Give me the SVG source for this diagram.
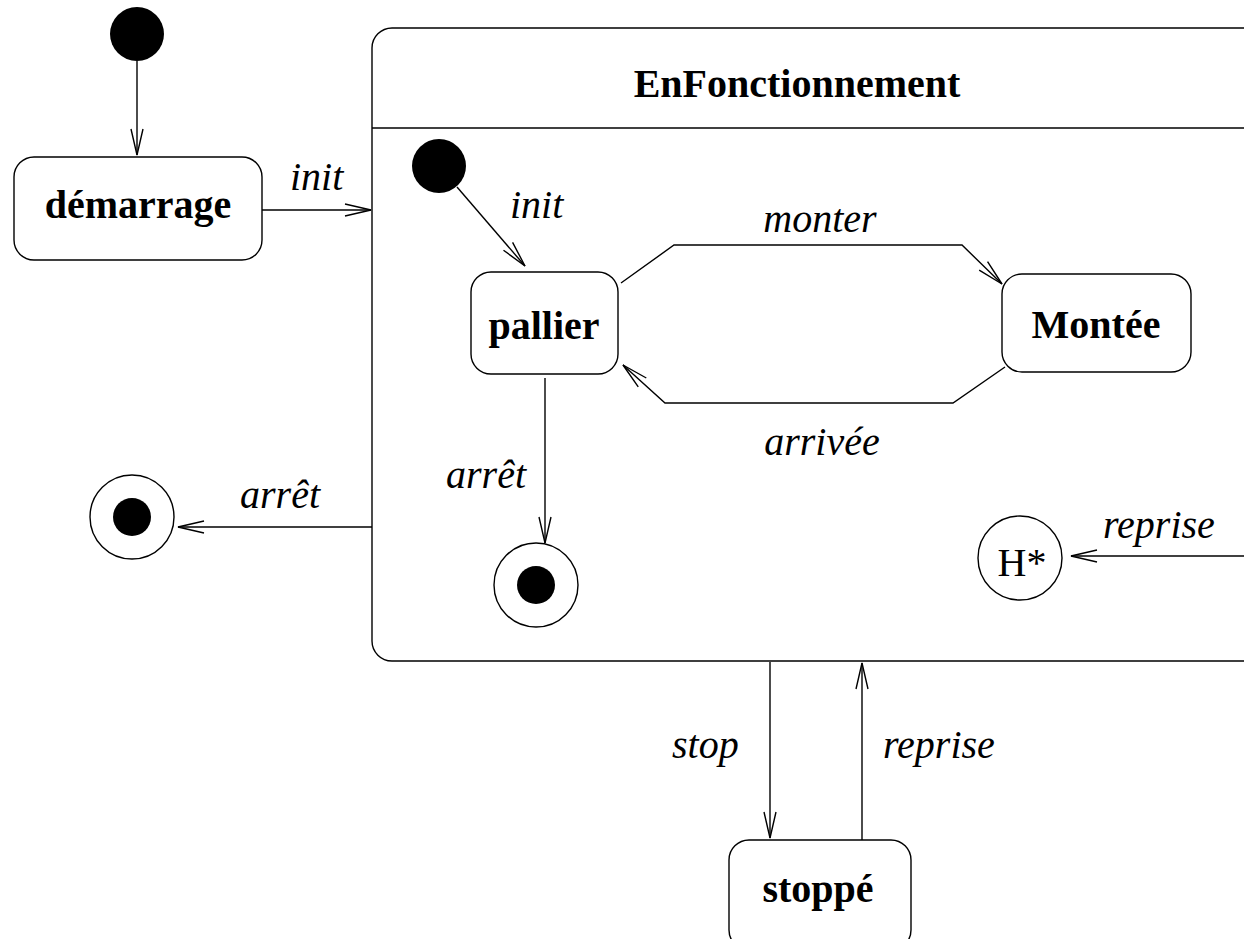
<svg xmlns="http://www.w3.org/2000/svg" width="1244" height="939" viewBox="0 0 1244 939">
  <style>
    .box { fill: #fff; stroke: #000; stroke-width: 1.4; }
    .ring { fill: #fff; stroke: #000; stroke-width: 1.4; }
    .dot { fill: #000; }
    .edge { fill: none; stroke: #000; stroke-width: 1.4; }
    .state { font-family: "Liberation Serif", "Times New Roman", serif; font-weight: bold; font-size: 40px; text-anchor: middle; fill: #000; }
    .label { font-family: "Liberation Serif", "Times New Roman", serif; font-style: italic; font-size: 40px; fill: #000; }
    .hist { font-family: "Liberation Serif", "Times New Roman", serif; font-size: 40px; text-anchor: middle; fill: #000; }
  </style>
  <defs>
    <marker id="open-arrow" markerUnits="userSpaceOnUse" markerWidth="30" markerHeight="16" refX="27" refY="7" orient="auto" viewBox="0 0 30 16">
      <path d="M1,1 L27,7 L1,13" fill="none" stroke="#000" stroke-width="1.4"/>
    </marker>
  </defs>
  <rect width="1244" height="939" fill="#fff"/>

  <!-- composite state -->
  <g id="enfonctionnement">
    <rect class="box" x="372" y="28" width="900" height="633" rx="20" ry="20"/>
    <line class="edge" x1="372" y1="128" x2="1244" y2="128"/>
    <text class="state" x="797" y="97">EnFonctionnement</text>
  </g>

  <g id="initial-top">
    <circle class="dot" cx="137" cy="34" r="27"/>
  </g>

  <g id="demarrage">
    <rect class="box" x="14" y="157" width="248" height="103" rx="20" ry="20"/>
    <text class="state" x="138" y="218">démarrage</text>
  </g>

  <g id="initial-inner">
    <circle class="dot" cx="439" cy="166" r="27"/>
  </g>

  <g id="pallier">
    <rect class="box" x="471" y="272" width="147" height="102" rx="20" ry="20"/>
    <text class="state" x="544" y="339">pallier</text>
  </g>

  <g id="montee">
    <rect class="box" x="1002" y="274" width="189" height="98" rx="20" ry="20"/>
    <text class="state" x="1096" y="338">Montée</text>
  </g>

  <g id="final-outer">
    <circle class="ring" cx="132" cy="517" r="42"/>
    <circle class="dot" cx="132" cy="517" r="19"/>
  </g>

  <g id="final-inner">
    <circle class="ring" cx="536" cy="585" r="42"/>
    <circle class="dot" cx="536" cy="585" r="19"/>
  </g>

  <g id="history">
    <circle class="ring" cx="1020" cy="558" r="42"/>
    <text class="hist" x="1022" y="576">H*</text>
  </g>

  <g id="stoppe">
    <rect class="box" x="729" y="840" width="182" height="110" rx="20" ry="20"/>
    <text class="state" x="818" y="902">stoppé</text>
  </g>

  <!-- transitions -->
  <g id="connectors">
    <line class="edge" x1="137" y1="61" x2="137" y2="155" marker-end="url(#open-arrow)"/>
    <line class="edge" x1="262" y1="210" x2="371" y2="210" marker-end="url(#open-arrow)"/>
    <line class="edge" x1="457" y1="187" x2="525" y2="266" marker-end="url(#open-arrow)"/>
    <polyline class="edge" points="621,283 674,245 962,245 1002,284" marker-end="url(#open-arrow)"/>
    <polyline class="edge" points="1005,367 953,403 665,403 623,365" marker-end="url(#open-arrow)"/>
    <line class="edge" x1="545" y1="378" x2="545" y2="543" marker-end="url(#open-arrow)"/>
    <line class="edge" x1="372" y1="527" x2="178" y2="527" marker-end="url(#open-arrow)"/>
    <line class="edge" x1="1244" y1="556" x2="1071" y2="556" marker-end="url(#open-arrow)"/>
    <line class="edge" x1="770" y1="662" x2="770" y2="838" marker-end="url(#open-arrow)"/>
    <line class="edge" x1="862" y1="840" x2="862" y2="663" marker-end="url(#open-arrow)"/>
  </g>

  <g id="labels">
    <text class="label" x="290" y="190">init</text>
    <text class="label" x="510" y="218">init</text>
    <text class="label" x="820" y="232" text-anchor="middle">monter</text>
    <text class="label" x="822" y="455" text-anchor="middle">arrivée</text>
    <text class="label" x="240" y="508">arrêt</text>
    <text class="label" x="446" y="488">arrêt</text>
    <text class="label" x="1103" y="538">reprise</text>
    <text class="label" x="672" y="758">stop</text>
    <text class="label" x="883" y="758">reprise</text>
  </g>
</svg>
